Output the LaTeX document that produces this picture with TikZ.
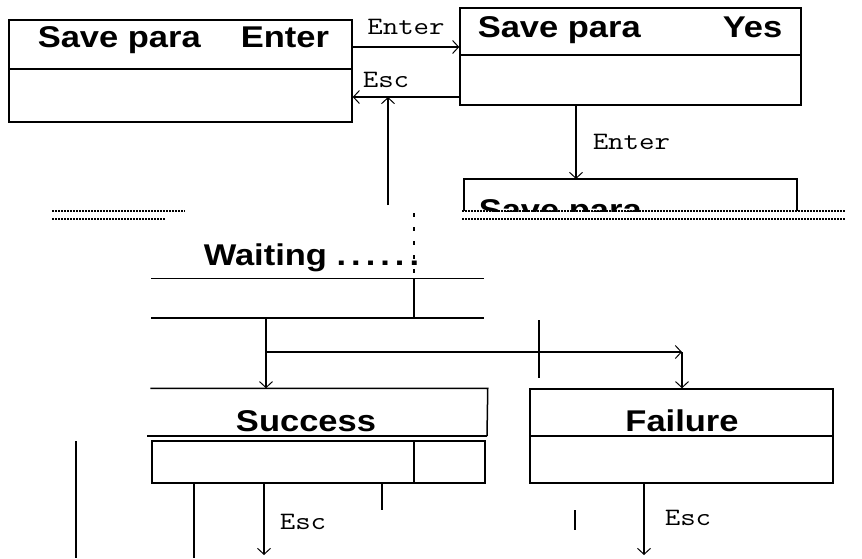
\documentclass[tikz,border=0pt]{standalone}
\usepackage{fontspec}
\usetikzlibrary{arrows.meta}
\newfontfamily\boxfont[FakeStretch=1.15]{Liberation Sans}
\newfontfamily\keyfont[FakeStretch=1.2]{Latin Modern Mono}

\begin{document}
\begin{tikzpicture}[x=1pt, y=-1pt, line width=1.5pt,
    >={Straight Barb[length=6pt, width=13pt, line width=1pt]},
    screen/.style={draw, rectangle, inner sep=0pt},
    ghost/.style={rectangle, inner sep=0pt},
    scr/.style={font=\boxfont\bfseries\fontsize{30}{30}\selectfont, inner sep=0pt},
    key/.style={font=\keyfont\fontsize{25}{25}\selectfont, inner sep=0pt},
    band/.style={line width=2.5pt, dash pattern=on 1.5pt off 1.5pt}]
    \useasboundingbox (0,0) rectangle (862,558);

    % --- screens ---
    \node[screen, minimum width=343pt, minimum height=102pt] (save1) at (180.5,71) {};
    \node[screen, minimum width=341pt, minimum height=97pt] (save2) at (630.5,56.5) {};
    \node[ghost, minimum width=331pt, minimum height=38pt] (wait) at (317.5,298) {};
    \node[ghost, minimum width=336pt, minimum height=94pt] (success) at (319,436) {};
    \node[screen, minimum width=303pt, minimum height=94pt] (failure) at (681.5,436) {};

    % dividers
    \draw (save1.west |- 0,69) -- (save1.east |- 0,69);
    \draw (save2.west |- 0,55) -- (save2.east |- 0,55);
    \draw (failure.west) -- (failure.east);

    % third screen, cut off by the band
    \begin{scope}
        \clip (450,170) rectangle (810,211);
        \draw (464,211) |- (797,179) -- (797,211);
        \node[scr, anchor=base west] (save3) at (478,220) {Save para};
    \end{scope}

    % waiting screen
    \draw (wait.north west) -- (wait.north east);
    \draw (wait.south west) -- (wait.south east);
    \draw (414,0 |- wait.north) -- (414,0 |- wait.south);
    \draw[dash pattern=on 4pt off 10pt, line width=1.2pt] (414,213) -- (414,0 |- wait.north);

    % success screen
    \draw (success.north west) -- (success.north east) -- (487,436);
    \draw (147,436) -- (487,436);
    \draw (152,441) rectangle (485,483);
    \draw (414,441) -- (414,483);

    % texts on screens
    \node[scr, anchor=base west] (s1a) at (37,47) {Save para};
    \node[scr, anchor=base west] (s1b) at (240,47) {Enter};
    \node[scr, anchor=base west] (s2a) at (477,37) {Save para};
    \node[scr, anchor=base east] (s2b) at (783,37) {Yes};
    \node[scr, anchor=base west] (w) at (203,265) {Waiting\ .\,.\,.\,.\,.\,.};
    \node[scr, anchor=base] (s) at (306,431) {Success};
    \node[scr, anchor=base] (f) at (682,431) {Failure};

    % dotted band
    \draw[band] (52,211) -- (185,211);
    \draw[band] (52,219) -- (165,219);
    \draw[band] (462,211) -- (845,211);
    \draw[band] (462,219) -- (845,219);

    % keys
    \draw[->] (save1.east |- 0,47) -- (save2.west |- 0,47)
        node[key, midway, above=12pt] (k1) {Enter};
    \draw[->] (save2.west |- 0,97) -- (save1.east |- 0,97);
    \node[key] (k2) at (386,80) {Esc};
    \draw[->] (388,205) -- (388,97);
    \draw[->] (576,0 |- save2.south) -- (576,179)
        node[key, midway, right=16pt] (k3) {Enter};

    \draw[->] (266,0 |- wait.south) -- (266,0 |- success.north);
    \draw[->] (266,352) -- (682,352);
    \draw[->] (682,352) -- (682,0 |- failure.north);
    \draw (539,320) -- (539,378);

    \draw (76,441) -- (76,558);
    \draw (194,483) -- (194,558);
    \draw[->] (264,483) -- (264,555);
    \node[key] (k4) at (303,522) {Esc};
    \draw (382,483) -- (382,510);

    \draw[->] (644,0 |- failure.south) -- (644,555);
    \node[key] (k5) at (688,518) {Esc};
    \draw (575,510) -- (575,530);
\end{tikzpicture}
\end{document}
